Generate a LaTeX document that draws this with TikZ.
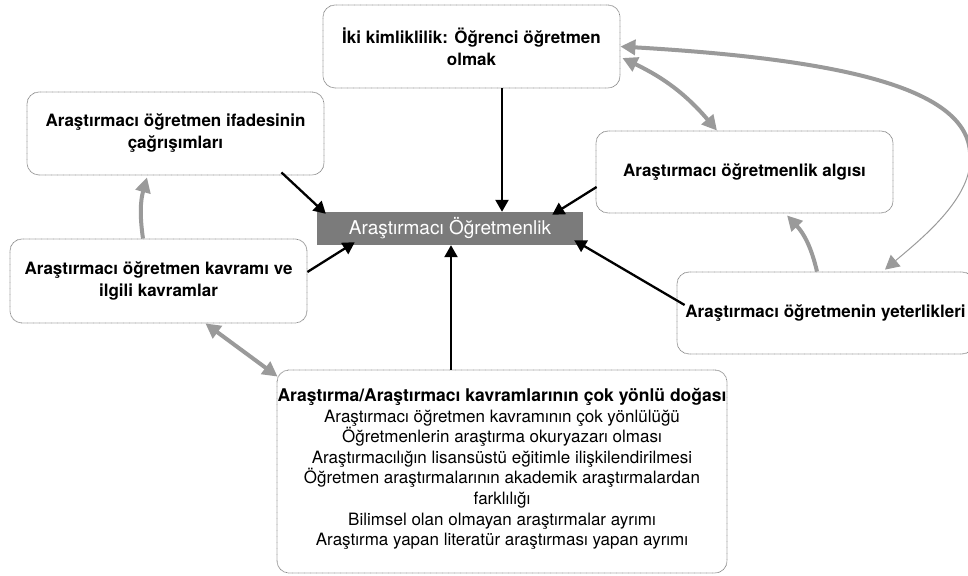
\documentclass[tikz,border=0pt]{standalone}
\usepackage{fontspec}
\setmainfont{TeX Gyre Heros}
\usetikzlibrary{arrows.meta,calc}
\definecolor{boxline}{HTML}{8A8A8A}
\definecolor{corefill}{HTML}{7B7B7B}
\definecolor{linkgray}{HTML}{9A9A9A}
\tikzset{
  theme/.style={draw=boxline, line width=0.8pt, dash pattern=on 0.7pt off 0.5pt,
    rounded corners=12pt, fill=white, minimum width=297pt, minimum height=83pt,
    align=center, inner sep=0pt, font=\fontsize{17}{22}\selectfont\bfseries},
  corebox/.style={fill=corefill, draw=none, minimum width=266pt, minimum height=33pt,
    inner sep=0pt, text=white, font=\fontsize{19}{22}\selectfont},
  blk/.style={draw=black, line width=2.3pt, -{Triangle[length=12pt,width=13pt]}},
  gry/.style={draw=linkgray, line width=4pt, -{Triangle[length=15pt,width=15pt]}},
  grytwo/.style={draw=linkgray, line width=4pt,
    {Triangle[length=15pt,width=15pt]}-{Triangle[length=15pt,width=15pt]}},
  grythin/.style={draw=linkgray, line width=1pt, -{Triangle[length=14pt,width=15pt]}}
}
\begin{document}
\begin{tikzpicture}[x=1pt,y=1pt]
\useasboundingbox (0,0) rectangle (968,575);

% the six themes around the central concept
\node[theme] (top) at (471.5,528.5) {İki kimliklilik: Öğrenci öğretmen\\olmak};
\node[theme] (lefttop) at (175.5,441.5) {Araştırmacı öğretmen ifadesinin\\çağrışımları};
\node[theme, minimum height=84pt] (leftbot) at (158.5,294) {Araştırmacı öğretmen kavramı ve\\ilgili kavramlar};
\node[theme, minimum height=82pt] (algisi) at (744.5,403) {Araştırmacı öğretmenlik algısı};
\node[theme, minimum height=82pt] (yeter) at (825.5,262) {Araştırmacı öğretmenin yeterlikleri};
\node[theme, minimum width=450pt, minimum height=203pt] (bottom) at (502,103.5) {};
\node[align=center, inner sep=0pt, font=\fontsize{17}{20.6}\selectfont] (bottomtext) at (502,106)
  {{\bfseries\fontsize{17.5}{20.6}\selectfont Araştırma/Araştırmacı kavramlarının çok yönlü doğası}\\
   Araştırmacı öğretmen kavramının çok yönlülüğü\\
   Öğretmenlerin araştırma okuryazarı olması\\
   Araştırmacılığın lisansüstü eğitimle ilişkilendirilmesi\\
   Öğretmen araştırmalarının akademik araştırmalardan\\
   farklılığı\\
   Bilimsel olan olmayan araştırmalar ayrımı\\
   Araştırma yapan literatür araştırması yapan ayrımı};

% central concept
\node[corebox] (core) at (450,346.5) {Araştırmacı Öğretmenlik};

% black links into the central concept
\draw[blk] ([xshift=30.5]top.south) -- ([xshift=52]core.north);
\draw[blk] ([xshift=-43,yshift=3]lefttop.south east) -- ([xshift=9,yshift=-2]core.north west);
\draw[blk] ([yshift=9]leftbot.east) -- ([xshift=38,yshift=3]core.south west);
\draw[blk] ([xshift=-51]bottom.north) -- ([xshift=1]core.south);
\draw[blk] ([xshift=1,yshift=-15]algisi.west) -- ([xshift=-31,yshift=-3]core.north east);
\draw[blk] ([xshift=8,yshift=8]yeter.west) -- ([xshift=-9,yshift=5]core.south east);

% gray links between the themes
\draw[gry] ([xshift=-15.5]leftbot.north) to[bend left=12] ([xshift=-28.5,yshift=-2]lefttop.south);
\draw[grytwo] ([xshift=-102]leftbot.south east) -- ([xshift=1,yshift=-7]bottom.north west);
\draw[grytwo] ([xshift=2,yshift=-11.5]top.east) to[bend left=12] ([xshift=-27.5]algisi.north);
\draw[gry] ([xshift=-8.5]yeter.north) to[bend right=15] ([xshift=42.5,yshift=-2]algisi.south);

% long arc from the competences back to the identity theme
\coordinate (rim) at (970,415);
\draw[gry] (rim) .. controls (975,485) and (850,515) .. (top.east);
\draw[grythin] (rim) .. controls (970,375) and (920,335) .. ([xshift=59.5,yshift=2]yeter.north);
\end{tikzpicture}
\end{document}
